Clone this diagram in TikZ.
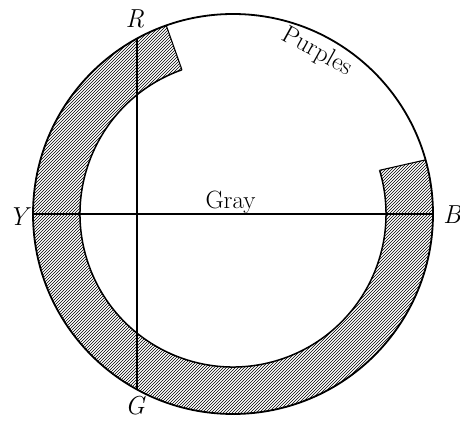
\documentclass[tikz,border=0pt]{standalone}
\usepackage{fontspec}
\setmainfont{Latin Modern Roman}
\usetikzlibrary{patterns}
\begin{document}
\begin{tikzpicture}[x=1pt,y=1pt,
  lbl/.style={inner sep=0pt,font=\fontsize{26}{26}\selectfont\itshape},
  txt/.style={inner sep=0pt,font=\fontsize{25}{25}\selectfont},
  hatch/.style={pattern=north east lines},
  rim/.style={line width=1.8pt},
  inrim/.style={line width=1.5pt},
  axis/.style={line width=1.1pt}]
\useasboundingbox (0,0) rectangle (460,420);
\begin{scope}[shift={(233,206)}]
  \coordinate (c) at (0,0);
  % hatched band
  \fill[hatch] (109.5:200) arc[start angle=109.5, end angle=375.7, radius=200]
     -- (376.6:153) arc[start angle=376.6, end angle=109.5, radius=153] -- cycle;
  % inner arc and band ends
  \draw[inrim] (109.5:153) arc[start angle=109.5, end angle=376.6, radius=153];
  \draw[axis] (109.5:200) -- (109.5:153);
  \draw[axis] (375.7:200) -- (376.6:153);
  % outer circle
  \draw[rim] (c) circle[radius=200];
  % axes
  \coordinate (y) at (-200,0);
  \coordinate (b) at (200,0);
  \coordinate (r) at (-96,175.5);
  \coordinate (g) at (-96,-175.5);
  \draw[axis] (y) -- (b);
  \draw[axis] (r) -- (g);
  % labels
  \node[lbl] (R) at (-98,195) {R};
  \node[lbl] (Y) at (-215,-3) {Y};
  \node[lbl] (B) at (219,-1) {B};
  \node[lbl] (G) at (-98,-192) {G};
  \node[txt] (gray) at (-2.5,12) {Gray};
  \node[txt,rotate=-29] (purples) at (84,162) {Purples};
\end{scope}
\end{tikzpicture}
\end{document}
